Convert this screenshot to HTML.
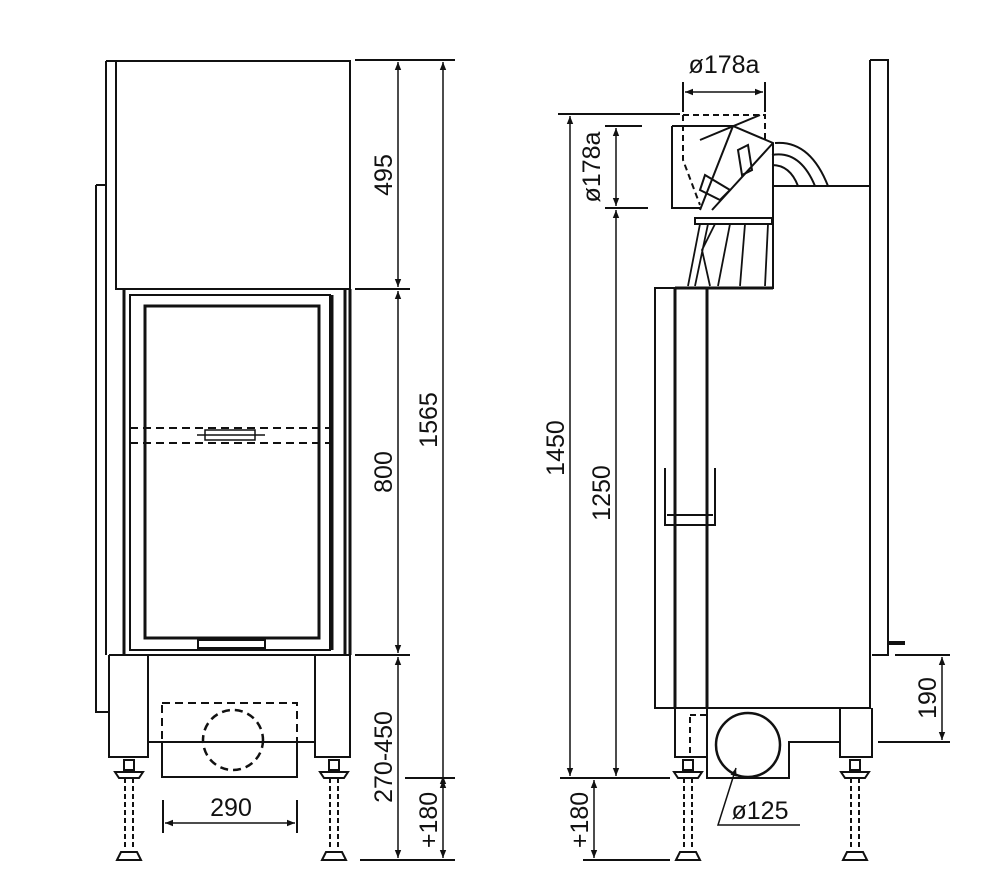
<!DOCTYPE html>
<html><head><style>html,body{margin:0;padding:0;background:#fff}svg{display:block}text{font-family:"Liberation Sans",sans-serif;font-size:25px;fill:#111}</style></head><body>
<svg width="1000" height="887" viewBox="0 0 1000 887" xmlns="http://www.w3.org/2000/svg">
<defs>
<marker id="a" viewBox="0 0 10 10" refX="10" refY="5" markerWidth="14" markerHeight="8" orient="auto-start-reverse" markerUnits="userSpaceOnUse"><path d="M0,1 L10,5 L0,9 Z" fill="#111"/></marker>
<g id="foot">
<rect x="-5" y="0" width="10" height="10" fill="none" stroke="#111" stroke-width="2"/>
<path d="M-14,12 L14,12 L10,18 L-10,18 Z" fill="#fff" stroke="#111" stroke-width="2"/>
<path d="M-4,18 V88 M4,18 V88" stroke="#111" stroke-width="2" stroke-dasharray="5,3"/>
<path d="M-12,100 L-8,92 L8,92 L12,100 Z" fill="#fff" stroke="#111" stroke-width="2"/>
</g>
</defs>
<g fill="none" stroke="#111" stroke-width="2">
<!-- LEFT VIEW -->
<path d="M106,61 H350 V289 H116 V61 M106,61 V655"/>
<path d="M96,185 H106 M96,185 V712 H109"/>
<path d="M124,289 V655 M350,289 V655" stroke-width="3"/>
<path d="M130,295 H330 V650 H130 Z"/>
<path d="M332,295 V650 M345,289 V655" stroke-width="3"/>
<rect x="145" y="306" width="174" height="332" stroke-width="3"/>
<path d="M130,428 H330 M130,443 H330" stroke-dasharray="8,5"/>
<path d="M197,435 H265 M205,430 H255 V440 H205 Z" stroke-width="1.5"/>
<path d="M198,640 H265 V648 H198 Z"/>
<path d="M109,655 H350 V757 H315 V655 M109,655 V757 H148 V655 M148,742 H315 M162,742 V777 H297 V742"/>
<rect x="162" y="703" width="135" height="39" stroke-dasharray="8,5"/>
<circle cx="233" cy="740" r="30" stroke-dasharray="8,5" stroke-width="2.5"/>
<!-- left dims -->
<path d="M355,60 H455 M355,289 H410 M355,655 H410 M405,778 H455 M360,860 H455"/>
<path d="M398,62 V287" marker-start="url(#a)" marker-end="url(#a)" stroke-width="1.5"/>
<path d="M398,291 V653" marker-start="url(#a)" marker-end="url(#a)" stroke-width="1.5"/>
<path d="M398,657 V858" marker-start="url(#a)" marker-end="url(#a)" stroke-width="1.5"/>
<path d="M443,62 V776" marker-start="url(#a)" stroke-width="1.5"/>
<path d="M443,776 V780" marker-start="url(#a)" stroke-width="1.5"/>
<path d="M443,780 V858" marker-start="url(#a)" marker-end="url(#a)" stroke-width="1.5"/>
<path d="M163,800 V833 M297,800 V833"/>
<path d="M165,823 H295" marker-start="url(#a)" marker-end="url(#a)" stroke-width="1.5"/>
<!-- RIGHT VIEW -->
<path d="M870,60 H888 V655 H872 M870,60 V655"/>
<path d="M888,643 H905" stroke-width="4"/>
<path d="M773,186 H870 V708 H655 V288 H773 V186"/>
<path d="M675,288 V708 M707,288 V708" stroke-width="3"/>
<path d="M675,288 H773" stroke-width="3"/>
<path d="M665,468 V525 H715 V468 M667,515 H713"/>
<path d="M675,708 V757 H707 V708 M840,708 V757 H872 V708"/>
<rect x="690" y="715" width="17" height="42" stroke-dasharray="6,4"/>
<path d="M707,757 V778 H789 V742 H840"/>
<circle cx="748" cy="745" r="32" stroke-width="2.5"/>
<path d="M672,126 H733 L773,143 L773,208 M672,126 V208 H700"/>
<path d="M683,115 H765 V143 M683,115 V160 L700,205" stroke-dasharray="6,4"/>
<path d="M733,126 L700,210 M773,143 L712,210 M700,140 L760,115"/>
<path d="M705,175 L730,190 L720,200 L700,190 Z M738,150 L748,145 L752,170 L742,175 Z"/>
<path d="M695,218 H772 V224 H695 Z"/>
<path d="M775,143 Q810,140 828,186 M772,155 Q800,150 815,186 M772,165 Q790,165 798,186"/>
<path d="M700,224 L688,286 M708,224 L695,286 M715,224 L702,250 L710,286 M730,224 L718,286 M745,224 L740,286 M768,224 L765,286" stroke-width="1.8"/>
<!-- right dims -->
<path d="M683,82 V112 M765,82 V112"/>
<path d="M685,92 H763" marker-start="url(#a)" marker-end="url(#a)" stroke-width="1.5"/>
<path d="M558,114 H680 M605,126 H642 M605,208 H648 M560,778 H670 M583,860 H670"/>
<path d="M570,116 V776" marker-start="url(#a)" marker-end="url(#a)" stroke-width="1.5"/>
<path d="M616,128 V206" marker-start="url(#a)" marker-end="url(#a)" stroke-width="1.5"/>
<path d="M616,210 V776" marker-start="url(#a)" marker-end="url(#a)" stroke-width="1.5"/>
<path d="M594,780 V858" marker-start="url(#a)" marker-end="url(#a)" stroke-width="1.5"/>
<path d="M895,655 H950 M878,742 H950"/>
<path d="M942,657 V740" marker-start="url(#a)" marker-end="url(#a)" stroke-width="1.5"/>
<path d="M800,825 H718 L736,768" marker-end="url(#a)" stroke-width="1.5"/>
</g>
<use href="#foot" x="129" y="760"/>
<use href="#foot" x="334" y="760"/>
<use href="#foot" x="688" y="760"/>
<use href="#foot" x="855" y="760"/>
<!-- text -->
<text transform="translate(392,175) rotate(-90)" text-anchor="middle">495</text>
<text transform="translate(392,472) rotate(-90)" text-anchor="middle">800</text>
<text transform="translate(392,757) rotate(-90)" text-anchor="middle">270-450</text>
<text transform="translate(437,420) rotate(-90)" text-anchor="middle">1565</text>
<text transform="translate(437,820) rotate(-90)" text-anchor="middle">+180</text>
<text x="231" y="816" text-anchor="middle">290</text>
<text x="724" y="73" text-anchor="middle">ø178a</text>
<text transform="translate(600,167) rotate(-90)" text-anchor="middle">ø178a</text>
<text transform="translate(564,448) rotate(-90)" text-anchor="middle">1450</text>
<text transform="translate(610,493) rotate(-90)" text-anchor="middle">1250</text>
<text transform="translate(588,820) rotate(-90)" text-anchor="middle">+180</text>
<text transform="translate(936,698) rotate(-90)" text-anchor="middle">190</text>
<text x="760" y="819" text-anchor="middle">ø125</text>
</svg>
</body></html>
